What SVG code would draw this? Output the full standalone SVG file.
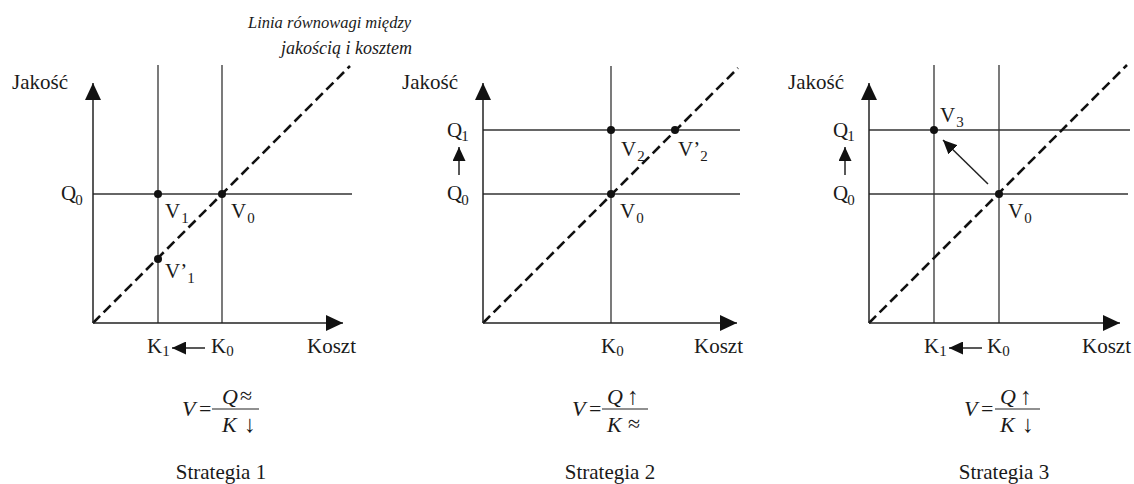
<svg xmlns="http://www.w3.org/2000/svg" width="1134" height="484" viewBox="0 0 1134 484">
<style>
text{font-family:"Liberation Serif","Times New Roman",serif;fill:#1a1a1a}
.lb{font-size:21px}
.sb{font-size:15px}
.it{font-style:italic}
.fm{font-size:22px}
.arw{font-size:24px}
.ax{stroke:#222;stroke-width:1.5;fill:none}
.gr{stroke:#333;stroke-width:1.3;fill:none}
.ds{stroke:#111;stroke-width:2.6;stroke-dasharray:10 5;fill:none}
.ar{stroke:#222;stroke-width:1.5;fill:none}
.fb{stroke:#222;stroke-width:1.2}
.dot{fill:#111}
</style>
<defs>
<marker id="ah" viewBox="0 0 17 16" refX="17" refY="8" markerWidth="17" markerHeight="16" markerUnits="userSpaceOnUse" orient="auto"><path d="M0,0 L17,8 L0,16 Z" fill="#111"/></marker>
<marker id="as" viewBox="0 0 14 13" refX="14" refY="6.5" markerWidth="14" markerHeight="13" markerUnits="userSpaceOnUse" orient="auto"><path d="M0,0 L14,6.5 L0,13 Z" fill="#111"/></marker>
</defs>

<g id="title">
<text class="it" font-size="16.5" x="248" y="28">Linia równowagi między</text>
<text class="it" font-size="18" x="281" y="54">jakością i kosztem</text>
</g>

<g id="panel1">
<g id="p1-lines">
<line class="gr" x1="158" y1="65" x2="158" y2="323"/>
<line class="gr" x1="222" y1="65" x2="222" y2="323"/>
<line class="gr" x1="93" y1="194" x2="352" y2="194"/>
<line class="ds" x1="93" y1="323" x2="350" y2="66"/>
<line class="ax" x1="93" y1="323" x2="93" y2="83" marker-end="url(#ah)"/>
<line class="ax" x1="93" y1="323" x2="343" y2="323" marker-end="url(#ah)"/>
<line class="ar" x1="205" y1="348" x2="172" y2="348" marker-end="url(#as)"/>
</g>
<circle class="dot" cx="158" cy="194" r="4"/>
<circle class="dot" cx="222" cy="194" r="4"/>
<circle class="dot" cx="158" cy="259" r="4"/>
<text class="lb" x="12" y="89">Jakość</text>
<text class="lb" x="61" y="200">Q<tspan class="sb" dx="-1" dy="5">0</tspan></text>
<text class="lb" x="165" y="218">V<tspan class="sb" dx="1" dy="5">1</tspan></text>
<text class="lb" x="231" y="218">V<tspan class="sb" dx="1" dy="5">0</tspan></text>
<text class="lb" x="165" y="278">V’<tspan class="sb" dy="5">1</tspan></text>
<text class="lb" x="147" y="353">K<tspan class="sb" dy="3">1</tspan></text>
<text class="lb" x="211" y="353">K<tspan class="sb" dy="3">0</tspan></text>
<text class="lb" x="307" y="353">Koszt</text>
<g id="f1" class="fm">
<text class="it" x="182" y="416">V</text>
<text x="199" y="416">=</text>
<line class="fb" x1="212" y1="409" x2="259" y2="409"/>
<text class="it" x="222" y="404">Q</text>
<text x="240" y="403">≈</text>
<text class="it" x="222" y="432">K</text>
<text class="arw" x="244" y="432">↓</text>
</g>
<text class="lb" x="221" y="479" text-anchor="middle">Strategia 1</text>
</g>

<g id="panel2">
<g id="p2-lines">
<line class="gr" x1="611" y1="66" x2="611" y2="323"/>
<line class="gr" x1="483" y1="130" x2="740" y2="130"/>
<line class="gr" x1="483" y1="194" x2="740" y2="194"/>
<line class="ds" x1="483" y1="323" x2="738" y2="68"/>
<line class="ax" x1="483" y1="323" x2="483" y2="83" marker-end="url(#ah)"/>
<line class="ax" x1="483" y1="323" x2="737" y2="323" marker-end="url(#ah)"/>
<line class="ar" x1="459" y1="175" x2="459" y2="147" marker-end="url(#as)"/>
</g>
<circle class="dot" cx="611" cy="130" r="4"/>
<circle class="dot" cx="675" cy="130" r="4"/>
<circle class="dot" cx="611" cy="194" r="4"/>
<text class="lb" x="402" y="89">Jakość</text>
<text class="lb" x="447" y="137">Q<tspan class="sb" dx="-1" dy="4">1</tspan></text>
<text class="lb" x="447" y="200">Q<tspan class="sb" dx="-1" dy="5">0</tspan></text>
<text class="lb" x="621" y="156">V<tspan class="sb" dx="1" dy="5">2</tspan></text>
<text class="lb" x="678" y="156">V’<tspan class="sb" dy="5">2</tspan></text>
<text class="lb" x="620" y="218">V<tspan class="sb" dx="1" dy="5">0</tspan></text>
<text class="lb" x="601" y="353">K<tspan class="sb" dy="3">0</tspan></text>
<text class="lb" x="694" y="353">Koszt</text>
<g id="f2" class="fm">
<text class="it" x="572" y="416">V</text>
<text x="589" y="416">=</text>
<line class="fb" x1="602" y1="409" x2="648" y2="409"/>
<text class="it" x="607" y="404">Q</text>
<text class="arw" x="627" y="404">↑</text>
<text class="it" x="607" y="432">K</text>
<text x="628" y="431">≈</text>
</g>
<text class="lb" x="610" y="479" text-anchor="middle">Strategia 2</text>
</g>

<g id="panel3">
<g id="p3-lines">
<line class="gr" x1="934" y1="65" x2="934" y2="323"/>
<line class="gr" x1="999" y1="65" x2="999" y2="323"/>
<line class="gr" x1="869" y1="130" x2="1130" y2="130"/>
<line class="gr" x1="869" y1="194" x2="1128" y2="194"/>
<line class="ds" x1="869" y1="323" x2="1127" y2="65"/>
<line class="ax" x1="869" y1="323" x2="869" y2="83" marker-end="url(#ah)"/>
<line class="ax" x1="869" y1="323" x2="1120" y2="323" marker-end="url(#ah)"/>
<line class="ar" x1="845" y1="175" x2="845" y2="147" marker-end="url(#as)"/>
<line class="ar" x1="988" y1="184" x2="943" y2="140" marker-end="url(#as)"/>
<line class="ar" x1="982" y1="348" x2="949" y2="348" marker-end="url(#as)"/>
</g>
<circle class="dot" cx="934" cy="130" r="4"/>
<circle class="dot" cx="999" cy="194" r="4"/>
<text class="lb" x="788" y="89">Jakość</text>
<text class="lb" x="833" y="137">Q<tspan class="sb" dx="-1" dy="4">1</tspan></text>
<text class="lb" x="833" y="200">Q<tspan class="sb" dx="-1" dy="5">0</tspan></text>
<text class="lb" x="940" y="122">V<tspan class="sb" dx="1" dy="5">3</tspan></text>
<text class="lb" x="1008" y="218">V<tspan class="sb" dx="1" dy="5">0</tspan></text>
<text class="lb" x="924" y="353">K<tspan class="sb" dy="3">1</tspan></text>
<text class="lb" x="987" y="353">K<tspan class="sb" dy="3">0</tspan></text>
<text class="lb" x="1082" y="353">Koszt</text>
<g id="f3" class="fm">
<text class="it" x="964" y="416">V</text>
<text x="981" y="416">=</text>
<line class="fb" x1="995" y1="409" x2="1040" y2="409"/>
<text class="it" x="1000" y="404">Q</text>
<text class="arw" x="1020" y="404">↑</text>
<text class="it" x="1000" y="432">K</text>
<text class="arw" x="1022" y="432">↓</text>
</g>
<text class="lb" x="1004" y="479" text-anchor="middle">Strategia 3</text>
</g>
</svg>
